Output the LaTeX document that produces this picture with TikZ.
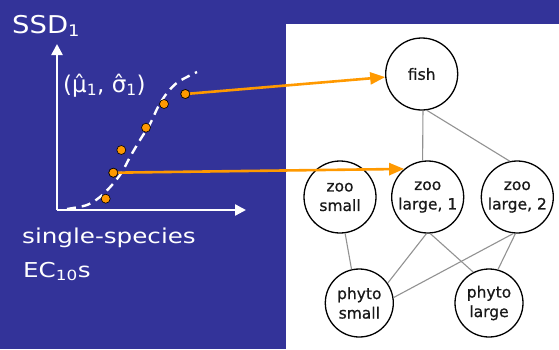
\documentclass[tikz,border=0pt]{standalone}
\usepackage{fontspec}
\usepackage{graphicx}
\setmainfont{DejaVu Sans}
\newfontfamily\nodefont[FakeBold=0.6]{DejaVu Sans}
\usetikzlibrary{arrows.meta}
\definecolor{slideblue}{HTML}{333399}
\definecolor{ptorange}{HTML}{FF9900}
\definecolor{edgegray}{HTML}{929292}
\newcommand{\wide}[2]{\scalebox{#1}[1]{#2}}
\newcommand{\subfs}[2]{\textsubscript{\fontsize{#1}{#1}\selectfont #2}}
\tikzset{
  var/.style={circle, draw=black, line width=1.3pt, fill=white, inner sep=0pt,
    minimum size=72pt, align=center, font=\nodefont\fontsize{15.5}{19.5}\selectfont, text=black!90},
  smallvar/.style={var, minimum size=68pt},
  link/.style={draw=edgegray, line width=1.1pt},
  datapt/.style={circle, draw=black, line width=0.6pt, fill=ptorange, inner sep=0pt, minimum size=9pt},
  maplink/.style={draw=ptorange, line width=2.6pt, -{Triangle[length=15pt,width=12pt]}},
  axis/.style={draw=white, line width=2.4pt, -{Triangle[length=11pt,width=11pt]}},
  label/.style={text=white, inner sep=0pt}
}
\begin{document}
\begin{tikzpicture}[x=1pt, y=-1pt]
  \fill[slideblue] (0,0) rectangle (559,349);
  \useasboundingbox (0,0) rectangle (559,349);
  \fill[white] (286,24) rectangle (559,349);

  % axes of the species sensitivity distribution
  \coordinate (origin) at (57,210);
  \coordinate (ytip) at (57,44);
  \coordinate (xtip) at (246,210);
  \draw[axis] (origin) -- (ytip);
  \draw[axis] (origin) -- (xtip);

  \node[label, anchor=base west, font=\fontsize{24.5}{24.5}\selectfont] (ssd) at (12,33)
    {\wide{1.12}{SSD\subfs{16}{1}}};
  \node[label, anchor=base west, font=\fontsize{23}{23}\selectfont] (par) at (63,92)
    {(μ̂\subfs{15.5}{1}, σ̂\subfs{15.5}{1})};
  \node[label, anchor=base west, font=\fontsize{20.5}{20.5}\selectfont] (xlab) at (22,243)
    {\wide{1.2}{single-species}};
  \node[label, anchor=base west, font=\fontsize{20.5}{20.5}\selectfont] (eclab) at (23,277)
    {\wide{1.2}{EC\subfs{14}{10}s}};

  % fitted distribution curve
  \draw[white, line width=2.4pt, dash pattern=on 9pt off 6pt]
    plot[smooth, tension=0.5] coordinates {(67,209) (87,205) (100,197) (112,185) (122,172)
      (130,157) (140,140) (150,124) (158,107) (167,93) (178,82) (197,72)};

  % network of species groups
  \node[var] (fish) at (421.7,74) {fish};
  \node[var] (zs) at (340,197) {zoo\\small};
  \node[var] (zl1) at (427.7,197) {zoo\\large, 1};
  \node[var] (zl2) at (517.3,197) {zoo\\large, 2};
  \node[smallvar] (ps) at (359.3,303) {phyto\\small};
  \node[smallvar] (pl) at (489,303) {phyto\\large};

  \draw[link] (fish.-88) -- (zl1.98);
  \draw[link] (fish.-82) -- (zl2.102);
  \draw[link] (zs.-82) -- (ps.103);
  \draw[link] (zl1.-92) -- (ps.35);
  \draw[link] (zl1.-86) -- (pl.117);
  \draw[link] (zl2.-96) -- (ps.9);
  \draw[link] (zl2.-93) -- (pl.75);

  % data points
  \node[datapt] (d1) at (105.7,198.7) {};
  \node[datapt] (d2) at (113.3,172.7) {};
  \node[datapt] (d3) at (121.3,150) {};
  \node[datapt] (d4) at (146,127.7) {};
  \node[datapt] (d5) at (164,104) {};
  \node[datapt] (d6) at (185.3,94) {};

  % links from fitted points to species groups, points redrawn on top
  \draw[maplink] (d6.center) -- (fish);
  \draw[maplink] (d2.center) -- (zl1.130);
  \node[datapt] at (d6) {};
  \node[datapt] at (d2) {};
\end{tikzpicture}
\end{document}
